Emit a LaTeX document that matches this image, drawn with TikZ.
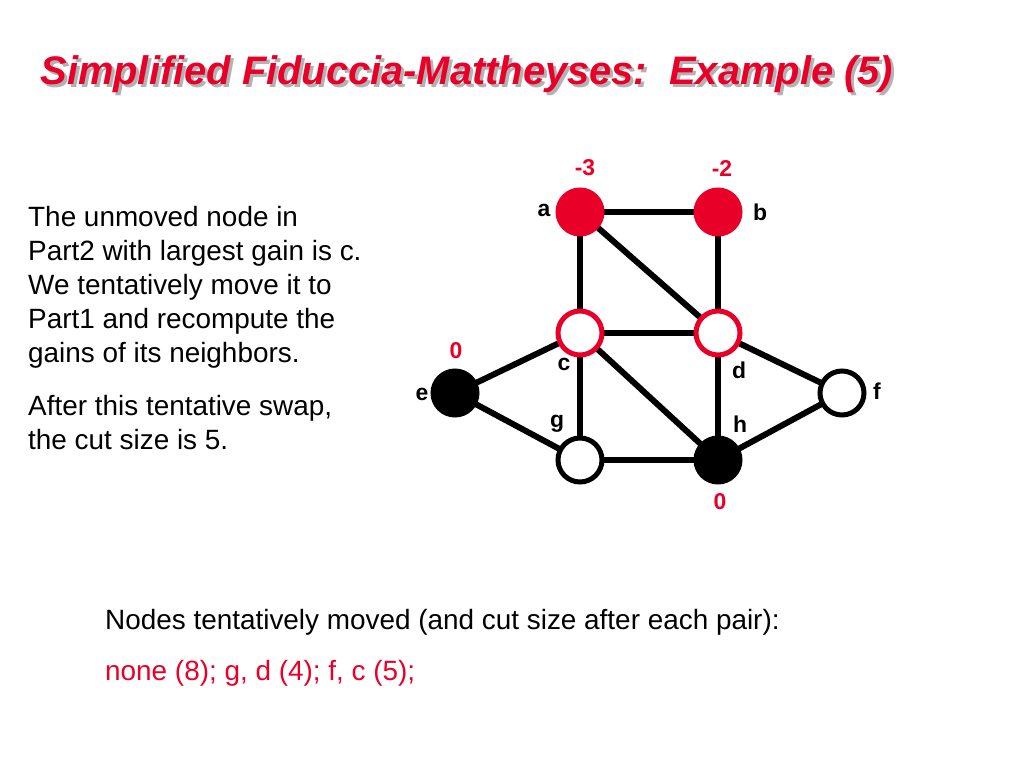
\documentclass[tikz,border=0pt]{standalone}
\usepackage{fontspec}
\setmainfont{Liberation Sans}
\definecolor{fmred}{RGB}{232,0,40}
\tikzset{
  vx/.style={circle,minimum size=44bp,inner sep=0pt,line width=5bp},
  redfull/.style={vx,fill=fmred,draw=fmred},
  redring/.style={vx,fill=white,draw=fmred},
  blackfull/.style={vx,fill=black,draw=black},
  blackring/.style={vx,fill=white,draw=black},
  lbl/.style={font=\fontsize{23}{26}\selectfont\bfseries},
  gain/.style={font=\fontsize{23}{26}\selectfont\bfseries,text=fmred},
  body/.style={font=\fontsize{28}{34.2}\selectfont,anchor=north west,align=left,inner sep=0pt}
}
\begin{document}
\begin{tikzpicture}[x=1bp,y=-1bp]
\useasboundingbox (0,0) rectangle (1024,768);
% title
\node[font=\fontsize{40}{46}\selectfont\bfseries\itshape,text=gray!60,anchor=west] at (40,77) {Simplified Fiduccia-Mattheyses:\ \ Example (5)};
\node[font=\fontsize{40}{46}\selectfont\bfseries\itshape,text=fmred,anchor=west] (title) at (37,74) {Simplified Fiduccia-Mattheyses:\ \ Example (5)};
% edges
\begin{scope}[line width=6bp]
\coordinate (pa) at (580,212); \coordinate (pb) at (718,212);
\coordinate (pc) at (580,333); \coordinate (pd) at (718,333);
\coordinate (pe) at (455,393); \coordinate (pf) at (842,393);
\coordinate (pg) at (580,460); \coordinate (ph) at (718,460);
\foreach \u/\v in {a/b,a/c,a/d,b/d,c/d,c/e,c/g,c/h,d/f,d/h,e/g,g/h,h/f}
  \draw (p\u) -- (p\v);
\end{scope}
% nodes
\node[redfull] (a) at (pa) {};
\node[redfull] (b) at (pb) {};
\node[redring] (c) at (pc) {};
\node[redring] (d) at (pd) {};
\node[blackfull] (e) at (pe) {};
\node[blackring] (f) at (pf) {};
\node[blackring] (g) at (pg) {};
\node[blackfull] (h) at (ph) {};
% labels
\node[lbl] (la) at (544,210) {a};
\node[lbl] (lb) at (760,212) {b};
\node[lbl] (lc) at (564,364) {c};
\node[lbl] (ld) at (739,370) {d};
\node[lbl] (le) at (422,394) {e};
\node[lbl] (lf) at (877,391) {f};
\node[lbl] (lg) at (557,424) {g};
\node[lbl] (lh) at (740,424) {h};
\node[gain] (ga) at (585,168) {-3};
\node[gain] (gb) at (722,168) {-2};
\node[gain] (ge) at (456,351) {0};
\node[gain] (gh) at (720,502) {0};
% text
\node[body] (txt) at (28,206) {The unmoved node in\\Part2 with largest gain is c.\\We tentatively move it to\\Part1 and recompute the\\gains of its neighbors.};
\node[body] (txt2) at (28,395) {After this tentative swap,\\the cut size is 5.};
\node[body] (hist) at (105,609) {Nodes tentatively moved (and cut size after each pair):};
\node[body,text=fmred] (moves) at (105,660) {none (8); g, d (4); f, c (5);};
\end{tikzpicture}
\end{document}
